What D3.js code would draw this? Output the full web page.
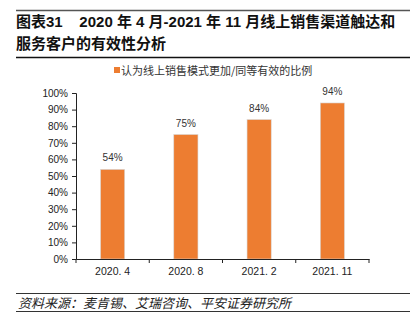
<!DOCTYPE html>
<html>
<head>
<meta charset="utf-8">
<script src="https://cdn.jsdelivr.net/npm/d3@7"></script>
<style>
body { margin: 0; background: #fff; }
text { font-family: "Liberation Sans", "Noto Sans CJK SC", sans-serif; }
</style>
</head>
<body>
<div id="chart-area"></div>
<script>
let width = 410,
height = 333;

// data
let categories = ['2020. 4', '2020. 8', '2021. 2', '2021. 11'];
let values = [54, 75, 84, 94];
let yTicks = [0, 10, 20, 30, 40, 50, 60, 70, 80, 90, 100];
let seriesName = '认为线上销售模式更加/同等有效的比例';

let svg = d3.select('#chart-area').append('svg')
	.attr('width', width)
	.attr('height', height);

let cjk = '"Noto Sans CJK SC", sans-serif';

// header rules + title
svg.append('line').attr('x1', 16).attr('x2', 410).attr('y1', 10.5).attr('y2', 10.5)
	.attr('stroke', '#555').attr('stroke-width', 1.5);
svg.append('text').attr('x', 16).attr('y', 27)
	.style('font-family', '"Liberation Sans", "Noto Sans CJK SC", sans-serif')
	.style('font-weight', 'bold').style('font-size', '15px').attr('fill', '#111')
	.text('图表31\u00a0\u00a0\u00a0\u00a02020 年 4 月-2021 年 11 月线上销售渠道触达和');
svg.append('text').attr('x', 16).attr('y', 49)
	.style('font-family', cjk).style('font-weight', 'bold').style('font-size', '15px').attr('fill', '#111')
	.text('服务客户的有效性分析');
svg.append('line').attr('x1', 16).attr('x2', 410).attr('y1', 57.5).attr('y2', 57.5)
	.attr('stroke', '#111').attr('stroke-width', 1.5);

// scales
let x = d3.scaleBand().domain(categories).range([76, 369]).paddingInner(0.67).paddingOuter(0.335);
let y = d3.scaleLinear().domain([0, 100]).range([259, 93]);

// legend
svg.append('rect').attr('x', 114).attr('y', 67).attr('width', 6).attr('height', 6).attr('fill', '#ED7D31');
svg.append('text').attr('x', 121).attr('y', 74.5)
	.style('font-family', cjk).style('font-size', '11px').attr('fill', '#333')
	.text(seriesName);

// bars
svg.selectAll('.bar')
	.data(values)
	.enter().append('rect')
	.attr('class', 'bar')
	.attr('x', (d, i) => x(categories[i]))
	.attr('width', x.bandwidth())
	.attr('y', d => y(d))
	.attr('height', d => y(0) - y(d))
	.attr('fill', '#ED7D31')
	.attr('stroke', '#d9d9d9')
	.attr('stroke-width', 0.6);

svg.selectAll('.lbl')
	.data(values)
	.enter().append('text')
	.attr('class', 'lbl')
	.attr('x', (d, i) => x(categories[i]) + x.bandwidth() / 2)
	.attr('y', d => y(d) - 8)
	.attr('text-anchor', 'middle')
	.style('font-size', '10px').attr('fill', '#333')
	.text(d => d + '%');

// axes
let yAxis = svg.append('g').attr('transform', 'translate(76,0)')
	.call(d3.axisLeft(y).tickValues(yTicks).tickFormat(d => d + '%').tickSize(4).tickPadding(4));
let xAxis = svg.append('g').attr('transform', 'translate(0,259)')
	.call(d3.axisBottom(x).tickSize(0).tickPadding(9));

// x ticks between categories
let edges = d3.range(categories.length + 1).map(i => 76 + i * x.step());
svg.selectAll('.xt').data(edges).enter().append('line')
	.attr('x1', d => d).attr('x2', d => d).attr('y1', 259).attr('y2', 263)
	.attr('stroke', '#222');

[yAxis, xAxis].forEach(a => {
	a.select('.domain').attr('stroke', '#222');
	a.selectAll('.tick line').attr('stroke', '#222');
	a.selectAll('text').style('font-size', '10px').attr('fill', '#222');
});
xAxis.selectAll('text').style('font-size', '10.5px');

// source
svg.append('line').attr('x1', 16).attr('x2', 410).attr('y1', 293.5).attr('y2', 293.5)
	.attr('stroke', '#333').attr('stroke-width', 1);
svg.append('text').attr('x', 18).attr('y', 308)
	.style('font-family', cjk).style('font-style', 'italic').style('font-size', '13px').attr('fill', '#222')
	.text('资料来源：麦肯锡、艾瑞咨询、平安证券研究所');
svg.append('line').attr('x1', 16).attr('x2', 410).attr('y1', 311.5).attr('y2', 311.5)
	.attr('stroke', '#333').attr('stroke-width', 1);
</script>
</body>
</html>
